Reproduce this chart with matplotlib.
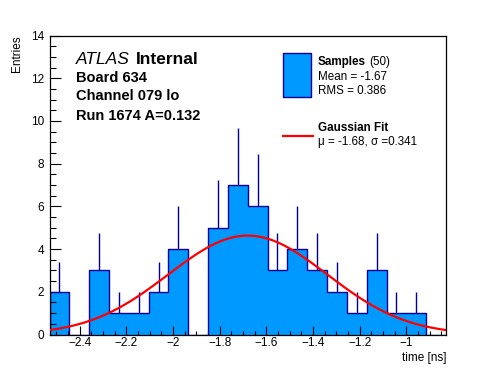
import numpy as np
import matplotlib
matplotlib.use("Agg")
import matplotlib.pyplot as plt
from matplotlib.patches import Rectangle
from matplotlib.lines import Line2D
from matplotlib.ticker import MultipleLocator

plt.rcParams['font.family'] = ['Liberation Sans', 'DejaVu Sans']

# histogram data (time of samples, 20 bins)
x_lo, x_hi = -2.53, -0.83
counts = [2, 0, 3, 1, 1, 2, 4, 0, 5, 7, 6, 3, 4, 3, 2, 1, 3, 1, 1, 0]

# gaussian fit parameters
fit_mu = -1.68
fit_sigma = 0.341
fit_amp = 4.63

n_samples = 50
mean_txt = "-1.67"
rms_txt = "0.386"

W, H = 496, 372
fig = plt.figure(figsize=(W / 100, H / 100), dpi=100)

def fx(x):
    return x / W

def fy(y):
    return 1 - y / H

ax = fig.add_axes([fx(49.5), fy(334.5), (446 - 49.5) / W, (334.5 - 35.5) / H])

edges = np.linspace(x_lo, x_hi, len(counts) + 1)
centers = 0.5 * (edges[:-1] + edges[1:])
counts = np.array(counts)

fill_c = '#0099ff'
line_c = '#000099'

ax.stairs(counts, edges, fill=True, color=fill_c, zorder=1)
ax.stairs(counts, edges, color=line_c, lw=1.0, zorder=2)
m = counts > 0
ax.vlines(centers[m], counts[m], counts[m] + np.sqrt(counts[m]), color=line_c, lw=1.0, zorder=2)

xx = np.linspace(x_lo, x_hi, 200)
yy = fit_amp * np.exp(-0.5 * ((xx - fit_mu) / fit_sigma) ** 2)
ax.plot(xx, yy, color='#ff0000', lw=1.6, zorder=3)

ax.set_xlim(x_lo, x_hi)
ax.set_ylim(0, 14)
ax.xaxis.set_major_locator(MultipleLocator(0.2))
ax.xaxis.set_minor_locator(MultipleLocator(0.05))
ax.yaxis.set_major_locator(MultipleLocator(2))
ax.yaxis.set_minor_locator(MultipleLocator(0.5))
ax.tick_params(axis='both', which='both', direction='in', top=False, right=False,
               labelsize=8.5, width=0.8)
ax.tick_params(axis='x', which='major', length=6.5, pad=2)
ax.tick_params(axis='x', which='minor', length=3.2)
ax.tick_params(axis='y', which='major', length=8, pad=4)
ax.tick_params(axis='y', which='minor', length=4)
ax.xaxis.set_major_formatter(plt.FuncFormatter(lambda v, p: ('%g' % round(v, 2)).replace('-', '\u2212')))
for s in ax.spines.values():
    s.set_linewidth(0.9)

fig.text(fx(446), fy(357.5), 'time [ns]', ha='right', va='center', fontsize=8.5)
fig.text(fx(17), fy(35.5), 'Entries', rotation=90, ha='center', va='top', fontsize=8.5)

# label block
fig.text(fx(76), fy(64), 'ATLAS', style='italic', fontsize=12.5, ha='left', va='baseline')
fig.text(fx(136), fy(64), 'Internal', weight='bold', fontsize=12.5, ha='left', va='baseline')
fig.text(fx(76), fy(81.5), 'Board 634', weight='bold', fontsize=10.5, va='baseline')
fig.text(fx(76), fy(100.5), 'Channel 079 lo', weight='bold', fontsize=10.5, va='baseline')
fig.text(fx(76), fy(119.5), 'Run 1674 A=0.132', weight='bold', fontsize=10.5, va='baseline')

# legend
fig.add_artist(Rectangle((fx(283), fy(97)), 28 / W, 44 / H, transform=fig.transFigure,
                         facecolor=fill_c, edgecolor=line_c, lw=1.0))
fig.text(fx(318), fy(62), 'Samples', weight='bold', fontsize=8.4, va='center')
fig.text(fx(369), fy(62), '(%d)' % n_samples, fontsize=8.4, va='center')
fig.text(fx(318), fy(77), 'Mean = ' + mean_txt, fontsize=8.4, va='center')
fig.text(fx(318), fy(91), 'RMS = ' + rms_txt, fontsize=8.4, va='center')
fig.add_artist(Line2D([fx(283), fx(313)], [fy(136), fy(136)], transform=fig.transFigure,
                      color='#ff0000', lw=1.6))
fig.text(fx(318), fy(128), 'Gaussian Fit', weight='bold', fontsize=8.4, va='center')
fig.text(fx(318), fy(142), '\u03bc = %.2f, \u03c3 =%.3f' % (fit_mu, fit_sigma), fontsize=8.4, va='center')

fig.savefig('out.png', dpi=100)
